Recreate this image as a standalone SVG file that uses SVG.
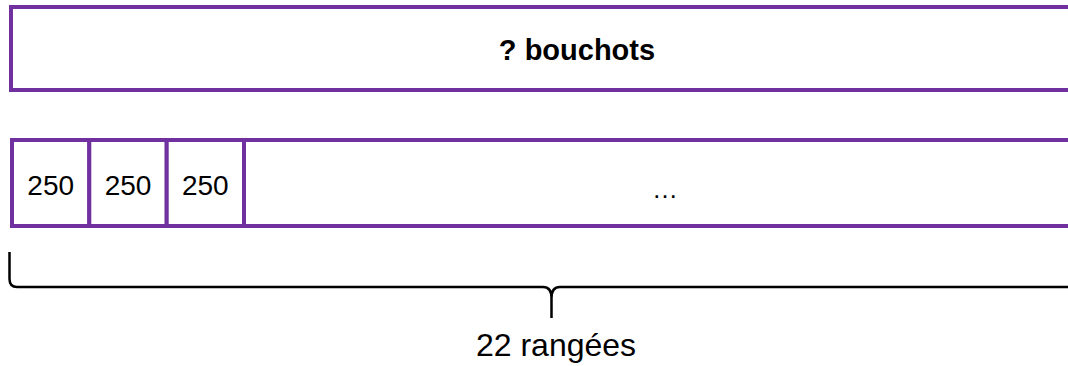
<svg xmlns="http://www.w3.org/2000/svg" width="1068" height="366" viewBox="0 0 1068 366">
  <style>
    .box { fill: #ffffff; stroke: #7030A0; stroke-width: 4; }
    .lbl { font-family: "Liberation Sans", Arial, sans-serif; fill: #000000; text-anchor: middle; }
    .brace { fill: none; stroke: #000000; stroke-width: 2.5; stroke-linecap: butt; stroke-linejoin: round; }
  </style>
  <rect width="1068" height="366" fill="#ffffff"/>
  <g id="total">
    <rect class="box" x="11" y="7" width="1070" height="83"/>
    <text class="lbl" x="577" y="60" font-size="29" font-weight="bold">? bouchots</text>
  </g>
  <g id="rangees">
    <rect class="box" x="12" y="140" width="1070" height="86"/>
    <g id="cell1">
      <rect class="box" x="12" y="140" width="77.3" height="86"/>
      <text class="lbl" x="50.7" y="195" font-size="28">250</text>
    </g>
    <g id="cell2">
      <rect class="box" x="89.3" y="140" width="77.4" height="86"/>
      <text class="lbl" x="128" y="195" font-size="28">250</text>
    </g>
    <g id="cell3">
      <rect class="box" x="166.7" y="140" width="77.3" height="86"/>
      <text class="lbl" x="205.3" y="195" font-size="28">250</text>
    </g>
    <g id="cell-rest">
      <text class="lbl" x="665" y="198" font-size="26">…</text>
    </g>
  </g>
  <g id="connectors">
    <path class="brace" d="M9.5,252 L9.5,279 Q9.5,287 17,287 L543,287 Q551.5,287 551.5,298 L551.5,318 M1068,287 L560,287 Q551.5,287 551.5,298"/>
  </g>
  <g id="label">
    <text class="lbl" x="556" y="356" font-size="32">22 rangées</text>
  </g>
</svg>
